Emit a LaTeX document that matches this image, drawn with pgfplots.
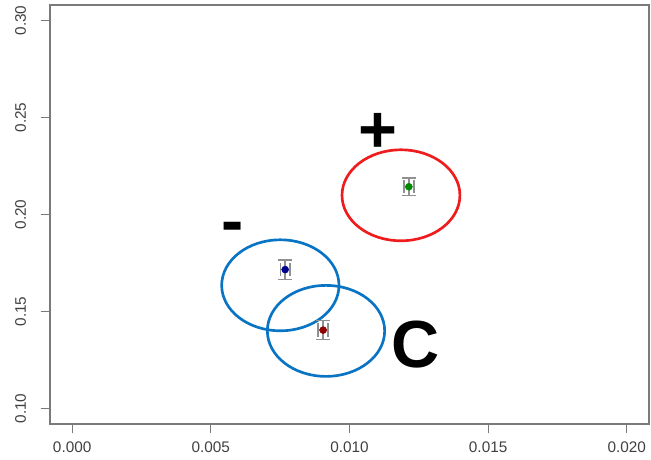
\documentclass[border=0pt]{standalone}
\usepackage{pgfplots}
\pgfplotsset{compat=1.18}
\usepackage{fontspec}
\setmainfont{Liberation Sans}
\definecolor{axgray}{HTML}{7A7A7A}
\definecolor{lblgray}{HTML}{404040}
\definecolor{ellred}{HTML}{EE1C1C}
\definecolor{ellblue}{HTML}{0A74C4}
\definecolor{ptblue}{HTML}{000090}
\definecolor{ptred}{HTML}{900000}
\definecolor{ptgreen}{HTML}{008A00}
\definecolor{errgray}{HTML}{909090}
\begin{document}
\begin{tikzpicture}
\useasboundingbox (-37.5pt,-27pt) rectangle (450.75pt,318pt);
\begin{axis}[
  at={(0pt,0pt)}, anchor=south west,
  scale only axis,
  width=449.25pt, height=314.25pt,
  xmin=-0.0008, xmax=0.0208,
  ymin=0.092, ymax=0.308,
  xtick={0,0.005,0.01,0.015,0.02},
  ytick={0.10,0.15,0.20,0.25,0.30},
  xticklabels={0.000,0.005,0.010,0.015,0.020},
  yticklabels={0.10,0.15,0.20,0.25,0.30},
  scaled x ticks=false, scaled y ticks=false,
  tick align=outside,
  major tick length=7pt,
  xtick pos=bottom, ytick pos=left,
  axis line style={axgray, line width=1.1pt},
  tick style={axgray, line width=0.9pt},
  tick label style={font=\fontsize{11.5}{13}\selectfont, text=lblgray},
  xticklabel style={anchor=north, yshift=-2.5pt},
  yticklabel style={rotate=90, anchor=south, yshift=7.5pt},
  clip=false,
]
% ellipses (annotations)
\draw[ellred, line width=2pt] (axis cs:0.011856,0.2099) ellipse [x radius=0.002126, y radius=0.02345];
\draw[ellblue, line width=2pt] (axis cs:0.007506,0.1635) ellipse [x radius=0.002115, y radius=0.02345];
\draw[ellblue, line width=2pt] (axis cs:0.009153,0.1400) ellipse [x radius=0.002115, y radius=0.02345];
% points with error bars
\addplot[only marks, mark=*, mark size=2.6pt, color=ptblue,
  error bars/.cd, y dir=both, y explicit, x dir=both, x explicit,
  error bar style={errgray, line width=1pt},
  error mark options={errgray, line width=1pt, mark size=5pt, rotate=90}]
  coordinates {(0.00768,0.1716) +- (0.00018,0.005)};
\addplot[only marks, mark=*, mark size=2.6pt, color=ptred,
  error bars/.cd, y dir=both, y explicit, x dir=both, x explicit,
  error bar style={errgray, line width=1pt},
  error mark options={errgray, line width=1pt, mark size=5pt, rotate=90}]
  coordinates {(0.00905,0.1404) +- (0.00018,0.0048)};
\addplot[only marks, mark=*, mark size=2.6pt, color=ptgreen,
  error bars/.cd, y dir=both, y explicit, x dir=both, x explicit,
  error bar style={errgray, line width=1pt},
  error mark options={errgray, line width=1pt, mark size=5pt, rotate=90}]
  coordinates {(0.01214,0.2143) +- (0.00018,0.0046)};
% labels
\node[font=\fontsize{50}{50}\selectfont\bfseries, inner sep=0pt] at (axis cs:0.01103,0.2422) {+};
\node[font=\fontsize{50}{50}\selectfont\bfseries, inner sep=0pt] at (axis cs:0.0058,0.1905) {-};
\node[font=\fontsize{50}{50}\selectfont\bfseries, inner sep=0pt] at (axis cs:0.0124,0.1330) {C};
\end{axis}
\end{tikzpicture}
\end{document}
